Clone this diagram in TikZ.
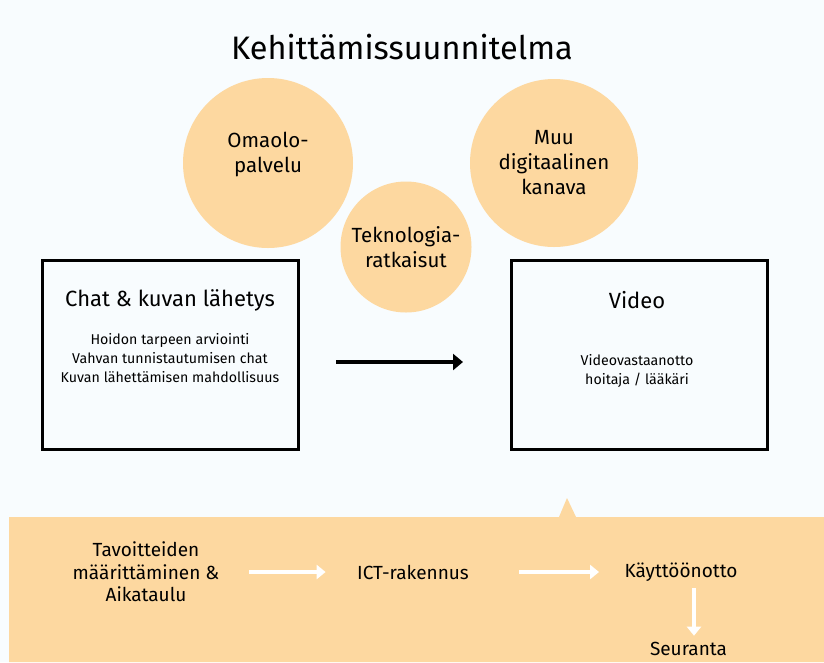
\documentclass[tikz,border=0pt]{standalone}
\usepackage{fontspec}
\setmainfont{Fira Sans}
\usetikzlibrary{arrows.meta,positioning}
\definecolor{peach}{RGB}{253,216,160}
\definecolor{paleblue}{RGB}{248,252,254}

\begin{document}
\begin{tikzpicture}[x=1pt,y=-1pt,
        bubble/.style={circle,fill=peach,inner sep=0pt},
        bubbletext/.style={align=center,font=\fontsize{20.5}{25}\selectfont},
        panel/.style={draw,line width=3pt,minimum width=256pt,minimum height=189pt},
        heading/.style={font=\fontsize{22}{26}\selectfont},
        detail/.style={align=center,font=\fontsize{14.2}{19}\selectfont},
        phase/.style={align=center,font=\fontsize{19}{22.5}\selectfont},
        flow/.style={-{Triangle[length=9pt,width=14pt]},white,line width=3.5pt}]
        % background and the band
        \fill [paleblue] (0,0) rectangle (824,662);
        \fill [peach] (9,517) -- (559,517) -- (567,498) -- (576,517)
            -- (824,517) -- (824,662) -- (9,662) -- cycle;
        \useasboundingbox (0,0) rectangle (824,662);

        \node (title) at (402,47) {\fontsize{32.5}{38}\selectfont Kehittämissuunnitelma};

        \node (omaolo) [bubble,minimum size=170pt] at (268,163) {};
        \node (omaolotext) [bubbletext] at ([yshift=9pt]omaolo.center) {Omaolo-\\palvelu};
        \node (muu) [bubble,minimum size=168pt] at (554,163) {};
        \node (muutext) [bubbletext] at (muu) {Muu\\digitaalinen\\kanava};
        \node (tekno) [bubble,minimum size=131pt] at (406,247) {};
        \node (teknotext) [bubbletext] at (tekno) {Teknologia-\\ratkaisut};

        \node (chat) [panel] at (170.5,355) {};
        \node (chattitle) [heading] at (170,300) {Chat \& kuvan lähetys};
        \node (chattext) [detail] at (170,358) {Hoidon tarpeen arviointi\\
            Vahvan tunnistautumisen chat\\Kuvan lähettämisen mahdollisuus};
        \node (video) [panel] at (639.5,355) {};
        \node (videotitle) [heading] at (637,300) {Video};
        \node (videotext) [detail] at (637,371) {Videovastaanotto\\hoitaja / lääkäri};

        \draw [-{Triangle[length=10pt,width=16pt]},line width=4pt,
            shorten <=36pt,shorten >=47pt] ([yshift=-7pt]chat.east) -- ([yshift=-7pt]video.west);

        % phases
        \node (goals) [phase] at (146,572) {Tavoitteiden\\määrittäminen \&\\Aikataulu};
        \node (ict) [phase] at (413,572) {ICT-rakennus};
        \node (kaytto) [phase] at (681,572) {Käyttöönotto};
        \node (seuranta) [phase] at (688.5,649) {Seuranta};

        \draw [flow,shorten <=26pt,shorten >=28pt] (goals) -- (ict);
        \draw [flow,shorten <=47pt,shorten >=22pt] (ict) -- (kaytto);
        \draw [flow,shorten <=3pt,shorten >=3pt] ([xshift=5.5pt]seuranta.north |- kaytto.south)
            -- ([xshift=5.5pt]seuranta.north);
    \end{tikzpicture}
\end{document}
